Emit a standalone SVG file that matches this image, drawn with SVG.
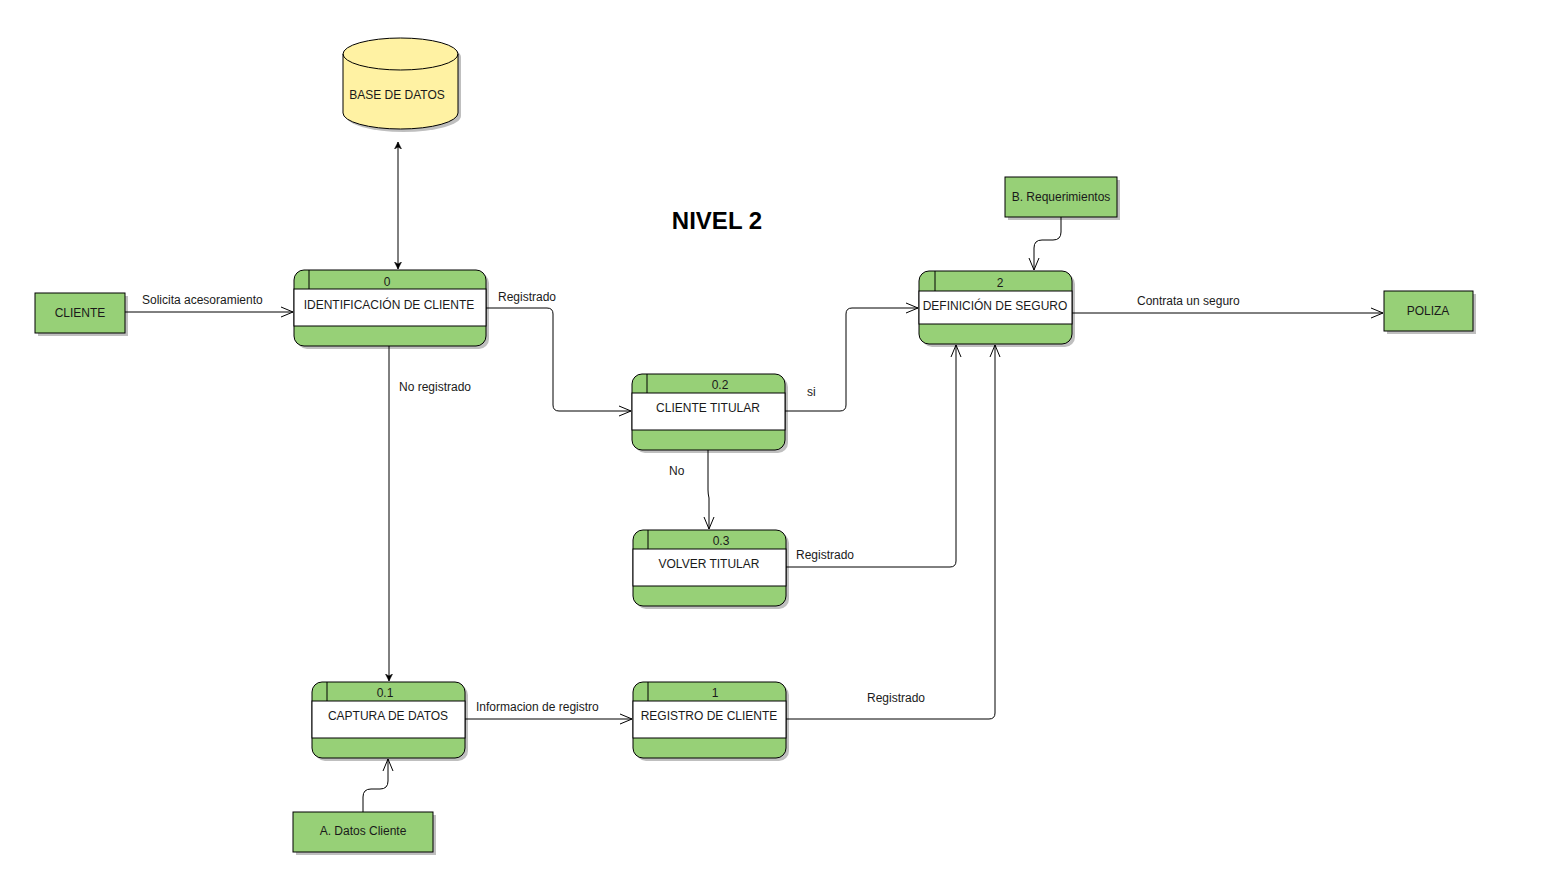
<svg xmlns="http://www.w3.org/2000/svg" width="1547" height="877" viewBox="0 0 1547 877">
<style>
text{font-family:"Liberation Sans",Arial,sans-serif;font-size:12px;fill:#1a1a1a}
.title{font-size:24px;font-weight:bold;fill:#000}
.mid{text-anchor:middle}
.g{fill:#97d077;stroke:#000;stroke-width:1}
.w{fill:#fff;stroke:#000;stroke-width:1}
.sh{fill:#000;opacity:0.25}
.ln{fill:none;stroke:#000;stroke-width:1}
.c{fill:none;stroke:#000;stroke-width:1}
</style>
<defs>
<marker id="open" markerWidth="14" markerHeight="12" refX="13" refY="6" orient="auto" markerUnits="userSpaceOnUse">
<path d="M1,1 L13,6 L1,11" fill="none" stroke="#000" stroke-width="1"/>
</marker>
<marker id="fill" markerWidth="8" markerHeight="8" refX="7" refY="4" orient="auto" markerUnits="userSpaceOnUse">
<path d="M0,0.5 L7,4 L0,7.5 L2,4 Z" fill="#000" stroke="#000" stroke-width="0.5"/>
</marker>
<marker id="fillstart" markerWidth="8" markerHeight="8" refX="1" refY="4" orient="auto" markerUnits="userSpaceOnUse">
<path d="M8,0.5 L1,4 L8,7.5 L6,4 Z" fill="#000" stroke="#000" stroke-width="0.5"/>
</marker>
</defs>

<text class="title mid" x="717" y="229">NIVEL 2</text>

<g id="connectors">
<path class="c" d="M125,312 L293,312" marker-end="url(#open)"/>
<text x="142" y="304">Solicita acesoramiento</text>
<path class="c" d="M398,142 L398,269" marker-start="url(#fillstart)" marker-end="url(#fill)"/>
<path class="c" d="M486,308 L547,308 Q553,308 553,314 L553,405 Q553,411 559,411 L631,411" marker-end="url(#open)"/>
<text x="498" y="301">Registrado</text>
<path class="c" d="M389,346 L389,681" marker-end="url(#fill)"/>
<text x="399" y="391">No registrado</text>
<path class="c" d="M785,411 L840,411 Q846,411 846,405 L846,314 Q846,308 852,308 L918,308" marker-end="url(#open)"/>
<text x="807" y="396">si</text>
<path class="c" d="M708,450 L708,490 Q708,494 709,498 L709,529" marker-end="url(#open)"/>
<text x="669" y="475">No</text>
<path class="c" d="M786,567 L950,567 Q956,567 956,561 L956,345" marker-end="url(#open)"/>
<text x="796" y="559">Registrado</text>
<path class="c" d="M786,719 L989,719 Q995,719 995,713 L995,345" marker-end="url(#open)"/>
<text x="867" y="702">Registrado</text>
<path class="c" d="M465,719 L632,719" marker-end="url(#open)"/>
<text x="476" y="711">Informacion de registro</text>
<path class="c" d="M1072,313 L1383,313" marker-end="url(#open)"/>
<text x="1137" y="305">Contrata un seguro</text>
<path class="c" d="M1061,217 L1061,232 Q1061,240 1053,240 L1042,240 Q1034,240 1034,248 L1034,270" marker-end="url(#open)"/>
<path class="c" d="M363,812 L363,797 Q363,789 371,789 L380,789 Q388,789 388,781 L388,759" marker-end="url(#open)"/>
</g>

<g id="db">
<path class="sh" d="M346,57 A57.5,16 0 0 1 461,57 L461,116 A57.5,16 0 0 1 346,116 Z"/>
<path d="M343,54 A57.5,16 0 0 1 458,54 L458,113 A57.5,16 0 0 1 343,113 Z" fill="#fff2a3" stroke="#000"/>
<path d="M343,54 A57.5,16 0 0 0 458,54" fill="none" stroke="#000"/>
<text class="mid" x="397" y="99">BASE DE DATOS</text>
</g>

<g id="cliente">
<rect class="sh" x="38" y="296" width="90" height="40"/>
<rect class="g" x="35" y="293" width="90" height="40"/>
<text class="mid" x="80" y="317">CLIENTE</text>
</g>

<g id="poliza">
<rect class="sh" x="1387" y="294" width="89" height="40"/>
<rect class="g" x="1384" y="291" width="89" height="40"/>
<text class="mid" x="1428" y="315">POLIZA</text>
</g>

<g id="breq">
<rect class="sh" x="1008" y="180" width="112" height="40"/>
<rect class="g" x="1005" y="177" width="112" height="40"/>
<text class="mid" x="1061" y="201">B. Requerimientos</text>
</g>

<g id="adatos">
<rect class="sh" x="296" y="815" width="140" height="40"/>
<rect class="g" x="293" y="812" width="140" height="40"/>
<text class="mid" x="363" y="835">A. Datos Cliente</text>
</g>

<g id="p0">
<rect class="sh" x="297" y="273" width="192" height="76" rx="10"/>
<rect class="g" x="294" y="270" width="192" height="76" rx="10"/>
<rect class="w" x="294" y="289" width="192" height="37"/>
<line class="ln" x1="309" y1="270" x2="309" y2="289"/>
<text class="mid" x="387" y="286">0</text>
<text class="mid" x="389" y="309">IDENTIFICACIÓN DE CLIENTE</text>
</g>

<g id="p02">
<rect class="sh" x="635" y="377" width="153" height="76" rx="10"/>
<rect class="g" x="632" y="374" width="153" height="76" rx="10"/>
<rect class="w" x="632" y="393" width="153" height="37"/>
<line class="ln" x1="647" y1="374" x2="647" y2="393"/>
<text class="mid" x="720" y="389">0.2</text>
<text class="mid" x="708" y="412">CLIENTE TITULAR</text>
</g>

<g id="p03">
<rect class="sh" x="636" y="533" width="153" height="76" rx="10"/>
<rect class="g" x="633" y="530" width="153" height="76" rx="10"/>
<rect class="w" x="633" y="549" width="153" height="37"/>
<line class="ln" x1="648" y1="530" x2="648" y2="549"/>
<text class="mid" x="721" y="545">0.3</text>
<text class="mid" x="709" y="568">VOLVER TITULAR</text>
</g>

<g id="p2">
<rect class="sh" x="922" y="274" width="153" height="73" rx="10"/>
<rect class="g" x="919" y="271" width="153" height="73" rx="10"/>
<rect class="w" x="919" y="291" width="153" height="33"/>
<line class="ln" x1="935" y1="271" x2="935" y2="291"/>
<text class="mid" x="1000" y="287">2</text>
<text class="mid" x="995" y="310">DEFINICIÓN DE SEGURO</text>
</g>

<g id="p01">
<rect class="sh" x="315" y="685" width="153" height="76" rx="10"/>
<rect class="g" x="312" y="682" width="153" height="76" rx="10"/>
<rect class="w" x="312" y="701" width="153" height="37"/>
<line class="ln" x1="327" y1="682" x2="327" y2="701"/>
<text class="mid" x="385" y="697">0.1</text>
<text class="mid" x="388" y="720">CAPTURA DE DATOS</text>
</g>

<g id="p1">
<rect class="sh" x="636" y="685" width="153" height="76" rx="10"/>
<rect class="g" x="633" y="682" width="153" height="76" rx="10"/>
<rect class="w" x="633" y="701" width="153" height="37"/>
<line class="ln" x1="648" y1="682" x2="648" y2="701"/>
<text class="mid" x="715" y="697">1</text>
<text class="mid" x="709" y="720">REGISTRO DE CLIENTE</text>
</g>
</svg>
